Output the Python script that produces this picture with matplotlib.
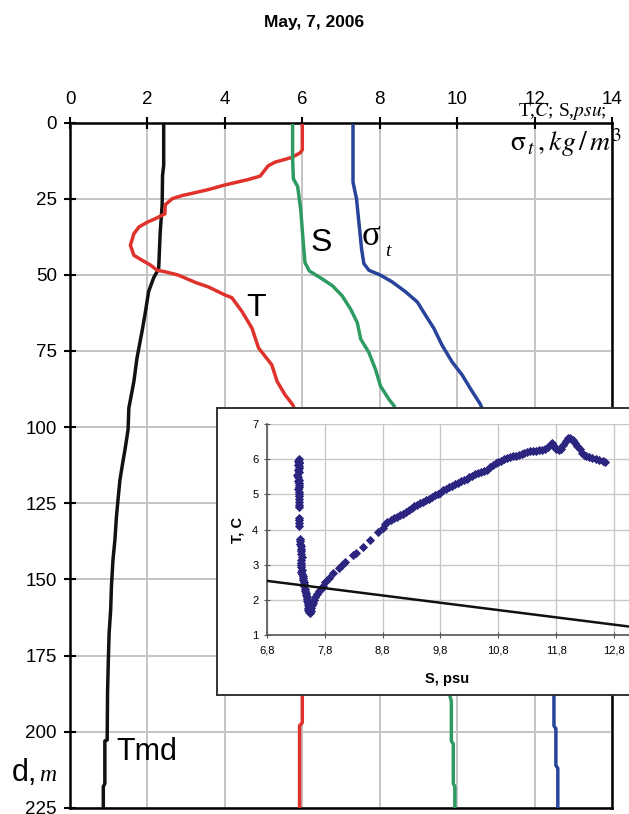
import matplotlib
matplotlib.use("Agg")
import matplotlib.pyplot as plt
from matplotlib.patches import Rectangle

plt.rcParams['font.family'] = ['Liberation Sans', 'DejaVu Sans']

# depth profiles, May 7 2006 (depth in m)
t_depth = [1, 9, 10, 11.5, 13, 14.2, 17.6, 18.7, 20.5, 22, 23, 24, 25, 27, 30, 31.6, 32.7,
           34.3, 36.5, 40.3, 43.6, 45.2, 46.8, 48.5, 49, 50.1, 52.5, 54, 56.6, 57.5, 62,
           67.5, 74, 79.5, 85, 89.3, 92.6, 100, 115, 130, 145, 160, 175, 188, 197, 198, 225]
t_val = [6.0, 6.0, 5.94, 5.72, 5.3, 5.12, 4.91, 4.61, 4.0, 3.58, 3.24, 2.89, 2.64, 2.46, 2.45,
         2.2, 2.0, 1.78, 1.65, 1.56, 1.65, 1.86, 2.08, 2.25, 2.46, 2.8, 3.24, 3.58, 4.0, 4.18,
         4.44, 4.7, 4.87, 5.21, 5.35, 5.55, 5.75, 6.0, 6.3, 6.6, 6.4, 6.1, 6.0, 6.0, 6.0, 5.93, 5.93]

s_depth = [1, 12, 18.5, 21, 28.7, 38.6, 46, 48.7, 51.4, 53.6, 56.9, 61.3, 65.7, 71.1, 75.5,
           81, 86.5, 90.9, 93, 120, 150, 175, 188, 190, 203, 204, 217, 218, 225]
s_val = [5.75, 5.75, 5.77, 5.88, 5.96, 6.02, 6.07, 6.18, 6.52, 6.78, 7.03, 7.25, 7.42, 7.51,
         7.72, 7.89, 8.02, 8.24, 8.37, 9.0, 9.5, 9.75, 9.81, 9.85, 9.85, 9.9, 9.9, 9.94, 9.94]

sig_depth = [1, 19.6, 25, 33.8, 41.4, 46.3, 48.5, 50.1, 52.3, 55.6, 58.9, 63.2, 67.6, 73.1,
             78.6, 82.9, 87.3, 92.5, 120, 150, 175, 188, 198, 199, 211, 212, 225]
sig_val = [7.31, 7.31, 7.40, 7.47, 7.53, 7.59, 7.72, 8.02, 8.32, 8.67, 8.97, 9.18, 9.4, 9.61,
           9.87, 10.13, 10.34, 10.6, 11.5, 12.1, 12.4, 12.5, 12.5, 12.55, 12.55, 12.6, 12.6]

tmd_depth = [1, 14, 17.4, 27, 36, 48, 51, 55.5, 62, 68.6, 77.3, 85, 93.7, 100.8, 107.4, 111.8,
             117.3, 123.8, 129.3, 137, 143.5, 152.3, 160, 167.7, 176.4, 187, 202.7, 203, 217,
             218, 225]
tmd_val = [2.42, 2.42, 2.39, 2.38, 2.33, 2.29, 2.16, 2.03, 1.95, 1.86, 1.73, 1.65, 1.52, 1.5,
           1.42, 1.36, 1.29, 1.24, 1.2, 1.16, 1.11, 1.07, 1.05, 1.01, 0.99, 0.97, 0.96, 0.9,
           0.9, 0.86, 0.86]

x_ticks = [0, 2, 4, 6, 8, 10, 12, 14]
d_ticks = [0, 25, 50, 75, 100, 125, 150, 175, 200, 225]

# inset T-S diagram
ts_s = [7.35, 7.34, 7.36, 7.35, 7.34, 7.35, 7.36, 7.34, 7.35, 7.33, 7.34, 7.35, 7.34, 7.36,
        7.35, 7.35, 7.34, 7.35, 7.36, 7.35, 7.36, 7.35, 7.36, 7.35, 7.36, 7.36, 7.36, 7.36,
        7.37, 7.38, 7.38, 7.39, 7.39, 7.40, 7.40, 7.41, 7.39, 7.40, 7.39, 7.40, 7.41, 7.40,
        7.41, 7.42, 7.42, 7.43, 7.44, 7.44, 7.45, 7.46, 7.46, 7.47, 7.48, 7.49, 7.49, 7.50,
        7.51, 7.51, 7.52, 7.52, 7.53, 7.54,
        7.56, 7.57, 7.58, 7.60, 7.62, 7.64, 7.67, 7.70, 7.74, 7.78,
        7.81, 7.88, 7.95, 8.04, 8.10, 8.15, 8.29, 8.35, 8.46, 8.58, 8.73, 8.81,
        8.85, 8.88, 8.95, 9.0, 9.05, 9.1, 9.15, 9.2, 9.25, 9.3, 9.35, 9.4, 9.45, 9.5, 9.55,
        9.6, 9.65, 9.7, 9.75, 9.8, 9.85, 9.9, 9.95, 10.0, 10.05, 10.1, 10.15, 10.2, 10.25,
        10.3, 10.35, 10.4, 10.45, 10.5, 10.55, 10.6, 10.65, 10.7, 10.75, 10.8, 10.85, 10.9,
        10.95, 11.0, 11.05, 11.1, 11.15, 11.2, 11.25, 11.3, 11.35, 11.4, 11.45, 11.5, 11.55,
        11.6, 11.65, 11.7, 11.73, 11.76, 11.8, 11.84, 11.88, 11.92, 11.96, 12.0, 12.04,
        12.08, 12.12, 12.16, 12.2, 12.24, 12.28, 12.32, 12.36, 12.42, 12.48, 12.54, 12.6, 12.64]
ts_t = [6.00, 5.96, 5.92, 5.88, 5.84, 5.80, 5.76, 5.70, 5.64, 5.56, 5.48, 5.42, 5.38, 5.32,
        5.26, 5.20, 5.14, 5.06, 5.00, 4.94, 4.86, 4.78, 4.70, 4.64, 4.33, 4.27, 4.18, 4.10,
        3.72, 3.66, 3.60, 3.52, 3.44, 3.38, 3.30, 3.22, 3.14, 3.06, 2.98, 2.92, 2.86, 2.80,
        2.74, 2.68, 2.62, 2.56, 2.50, 2.44, 2.38, 2.32, 2.26, 2.20, 2.14, 2.08, 2.02, 1.96,
        1.90, 1.84, 1.78, 1.72, 1.66, 1.62,
        1.68, 1.76, 1.84, 1.92, 2.00, 2.08, 2.16, 2.24, 2.32, 2.40,
        2.52, 2.62, 2.75, 2.90, 2.98, 3.08, 3.27, 3.32, 3.51, 3.70, 3.94, 4.03,
        4.15, 4.22, 4.28, 4.32, 4.36, 4.40, 4.45, 4.50, 4.56, 4.61, 4.66, 4.71, 4.75, 4.79, 4.84,
        4.88, 4.93, 4.97, 5.01, 5.05, 5.11, 5.16, 5.21, 5.25, 5.28, 5.32, 5.37, 5.41, 5.45,
        5.49, 5.53, 5.57, 5.61, 5.63, 5.66, 5.70, 5.78, 5.84, 5.89, 5.93, 5.96, 6.00,
        6.02, 6.05, 6.08, 6.10, 6.13, 6.15, 6.18, 6.20, 6.22, 6.23, 6.24, 6.26, 6.27,
        6.30, 6.36, 6.42, 6.46, 6.38, 6.30, 6.26, 6.30, 6.40, 6.52, 6.60, 6.60,
        6.54, 6.46, 6.38, 6.28, 6.18, 6.12, 6.08, 6.05, 6.02, 6.00, 5.97, 5.94, 5.93]
tmd_line_s = [6.8, 13.25]
tmd_line_t = [2.54, 1.20]
inset_xticks = [6.8, 7.8, 8.8, 9.8, 10.8, 11.8, 12.8]
inset_yticks = [1, 2, 3, 4, 5, 6, 7]

fig = plt.figure(figsize=(6.29, 8.14), dpi=100)
ax = fig.add_axes([0.1113, 0.0074, 0.8617, 0.8421])

lw = 2.5
ax.plot(tmd_val, tmd_depth, color='#111111', lw=lw, zorder=3)
ax.plot(t_val, t_depth, color='#e0322c', lw=lw, zorder=3)
ax.plot(s_val, s_depth, color='#2e9c62', lw=lw, zorder=3)
ax.plot(sig_val, sig_depth, color='#27449a', lw=lw, zorder=3)

ax.set_xlim(0, 14)
ax.set_ylim(225, 0)
ax.set_xticks(x_ticks)
ax.set_yticks(d_ticks)
ax.xaxis.tick_top()
ax.tick_params(direction='inout', length=9, width=1.5, labelsize=13.5, colors='black')
ax.tick_params(axis='x', pad=6)
ax.tick_params(axis='y', pad=5)
ax.grid(True, color='#c4c4c4', lw=1.4)
for sp in ax.spines.values():
    sp.set_linewidth(1.8)
    sp.set_color('black')

# curve labels
ax.text(4.8, 61, 'T', fontsize=23, ha='center', va='center')
ax.text(6.48, 39.5, 'S', fontsize=23, ha='center', va='center')
ax.text(7.78, 37.5, '\u03c3', fontsize=25, ha='center', va='center', family='Liberation Serif')
ax.text(8.2, 42.5, 't', fontsize=14, ha='center', va='center', style='italic',
        family='Liberation Serif')
ax.text(1.19, 209.3, 'Tmd', fontsize=22, ha='left', va='baseline')

# axis titles
ax.text(-1.5, 216.3, 'd,', fontsize=22, ha='left', va='baseline', clip_on=False)
ax.text(-0.8, 216.3, 'm', fontsize=17, ha='left', va='baseline', clip_on=False,
        style='italic', family='Liberation Serif')
ax.text(13.87, -2.0, r'T,$C$; S,$psu$;', fontsize=14, ha='right', va='baseline',
        family='Liberation Serif', math_fontfamily='stix', clip_on=False)
ax.text(14.25, 9.3, r'$\mathrm{\sigma}_{\,t}\,, kg\,/\,m^3$', fontsize=20, ha='right',
        va='baseline', math_fontfamily='stix', clip_on=False, zorder=5)

fig.text(0.5, 0.972, 'May, 7, 2006', fontsize=12.5, fontweight='bold', ha='center', va='center')

# inset frame
frame = Rectangle((217 / 629, 1 - 695 / 814), 1.0, 287 / 814, transform=fig.transFigure,
                  facecolor='white', edgecolor='#333333', lw=1.4, zorder=4)
fig.add_artist(frame)

ins = fig.add_axes([266.7 / 629, 1 - 635 / 814, 0.594, 211 / 814])
ins.set_zorder(5)
ins.set_facecolor('white')
ins.scatter(ts_s, ts_t, marker='D', s=22, color='#2b2580', linewidths=0, zorder=3)
ins.plot(tmd_line_s, tmd_line_t, color='#111111', lw=1.8, zorder=4)
ins.set_xlim(6.8, 13.25)
ins.set_ylim(1, 7)
ins.set_xticks(inset_xticks)
ins.set_xticklabels([f'{v:.1f}'.replace('.', ',') for v in inset_xticks])
ins.set_yticks(inset_yticks)
ins.tick_params(direction='inout', length=5, width=0.8, labelsize=8, color='#555555')
ins.tick_params(axis='x', pad=5)
ins.grid(True, color='#c8c8c8', lw=1.0)
ins.spines['top'].set_visible(False)
ins.spines['right'].set_visible(False)
ins.spines['left'].set_color('#555555')
ins.spines['bottom'].set_color('#555555')
ins.spines['left'].set_linewidth(1.2)
ins.spines['bottom'].set_linewidth(1.2)
ins.set_xlabel('S, psu', fontsize=10.5, fontweight='bold')
ins.set_ylabel('T, C', fontsize=10.5, fontweight='bold')
ins.xaxis.set_label_coords(0.482, -0.175)
ins.yaxis.set_label_coords(-0.06, 0.5)

fig.savefig('out.png', dpi=100)
